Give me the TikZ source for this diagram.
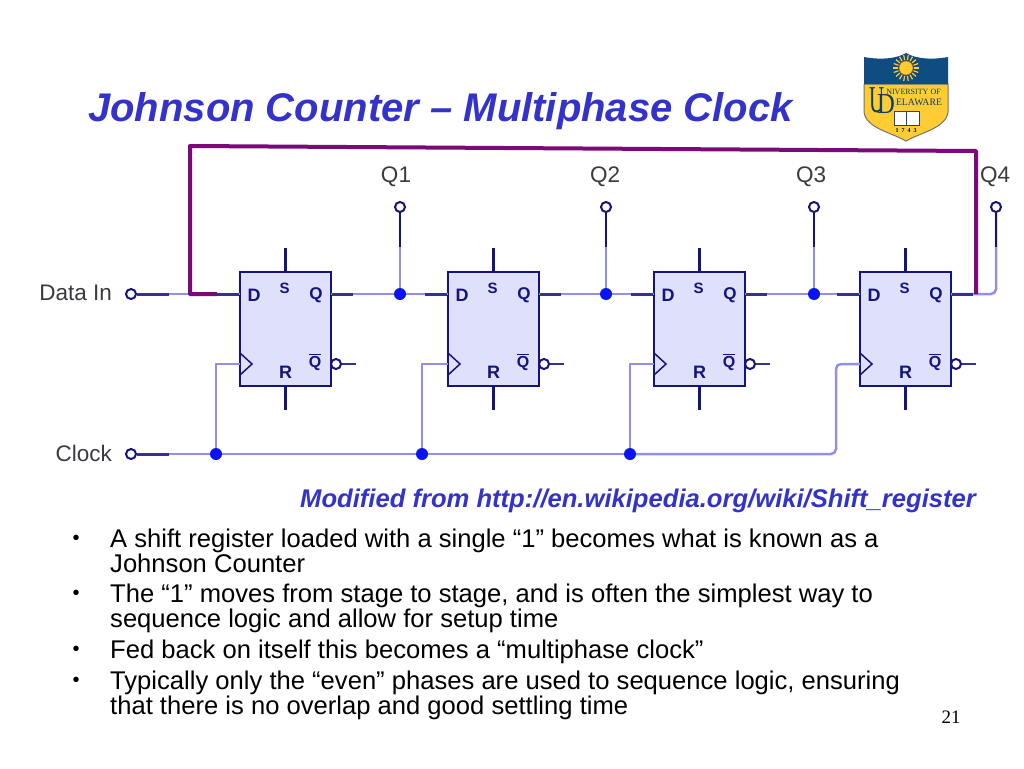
\documentclass[tikz,border=0pt]{standalone}
\usepackage{fontspec}
\setmainfont{Liberation Sans}
\newfontfamily\logofont{Liberation Serif}
\usetikzlibrary{positioning}
\definecolor{titleblue}{HTML}{3333CC}
\definecolor{boxfill}{HTML}{DFE1FA}
\definecolor{navyline}{HTML}{14147E}
\definecolor{stubblue}{HTML}{32328F}
\definecolor{wireblue}{HTML}{9090E6}
\definecolor{dotblue}{HTML}{0A14F0}
\definecolor{loopline}{HTML}{7A0A7A}
\definecolor{labelgray}{HTML}{3A3A40}
\definecolor{shieldblue}{HTML}{0F4C81}
\definecolor{shieldgold}{HTML}{FFCC33}
\tikzset{
  ffbox/.style={draw=navyline,fill=boxfill,line width=1.5pt,minimum width=91pt,minimum height=114pt,inner sep=0pt},
  wire/.style={draw=wireblue,line width=2.5pt},
  stub/.style={draw=stubblue,line width=3pt},
  pin/.style={draw=navyline,line width=2.5pt},
  loopwire/.style={draw=loopline,line width=4pt,line join=round},
  terminal/.style={circle,draw=navyline,fill=white,line width=2pt,minimum size=10pt,inner sep=0pt},
  bubble/.style={circle,draw=navyline,fill=white,line width=2pt,minimum size=10pt,inner sep=0pt},
  junction/.style={circle,fill=dotblue,minimum size=12pt,inner sep=0pt},
  sig/.style={font=\fontsize{22.5}{22.5}\selectfont,text=labelgray,inner sep=0pt},
  pinlabel/.style={font=\bfseries\fontsize{17}{17}\selectfont,text=navyline,inner sep=0pt},
  bullettext/.style={font=\fontsize{25.6}{25}\selectfont,align=left,anchor=north west,inner sep=0pt},
  dotmark/.style={font=\fontsize{20}{20}\selectfont,inner sep=0pt},
  logotext/.style={text=shieldblue!80!black,inner sep=0pt},
}
\begin{document}
\begin{tikzpicture}[x=1pt,y=-1pt]
\useasboundingbox[fill=white] (0,0) rectangle (1024,768);
\node[font=\bfseries\itshape\fontsize{40}{40}\selectfont,text=titleblue,anchor=base west,inner sep=0pt] (title) at (88,121) {Johnson Counter – Multiphase Clock};
% logo
\fill[shieldgold,draw=black!55,line width=1pt] (864,84) -- (864,112) .. controls (866,128) and (890,132) .. (906,141) .. controls (922,132) and (946,128) .. (948,112) -- (948,84) -- cycle;
\fill[shieldblue] (864,84) -- (864,57) .. controls (880,60) and (896,59) .. (906,53) .. controls (916,59) and (932,60) .. (948,57) -- (948,84) -- cycle;
\foreach \a in {0,20,...,340} \draw[shieldgold,line width=1.2pt] (906,68) ++(\a:8) -- ++(\a:5);
\node[circle,fill=shieldgold,draw=orange!80!black,line width=.6pt,minimum size=14pt,inner sep=0pt] (sun) at (906,68) {};
\node[logotext,font=\logofont\fontsize{38}{38}\selectfont,xscale=.55] (logoU) at (877.5,100) {U};
\node[logotext,font=\logofont\fontsize{29}{29}\selectfont,xscale=.85] (logoD) at (886,104) {D};
\node[logotext,font=\logofont\fontsize{8}{8}\selectfont] (logoa) at (913.5,92) {NIVERSITY OF};
\node[logotext,font=\logofont\fontsize{9.8}{10}\selectfont] (logob) at (919,102) {ELAWARE};
\draw[shieldblue,fill=white,line width=1pt] (894,111) rectangle (919,125) (906.5,111) -- (906.5,125);
\node[font=\logofont\bfseries\fontsize{6}{6}\selectfont,text=black,inner sep=0pt] (logoc) at (906,131) {1\ \ 7\ \ 4\ \ 3};
% circuit
\node[terminal] (dataT) at (131,294) {};
\node[terminal] (clockT) at (131,454) {};
\node[sig,anchor=east] (dataL) at (112,293) {Data In};
\node[sig,anchor=east] (clockL) at (112,453) {Clock};
\coordinate (loopIn) at (217,294);
\foreach \n/\x in {1/400,2/606,3/814} {
  \node[junction] (j\n) at (\x,294) {};
}
\foreach \n/\x in {1/216,2/422,3/630} {
  \node[junction] (c\n) at (\x,454) {};
}
\foreach \n/\x/\lx in {1/400/396,2/606/605,3/814/811,4/996/995} {
  \node[terminal] (t\n) at (\x,207) {};
  \node[sig] (tl\n) at (\lx,177) {Q\n};
  \coordinate (tm\n) at (\x,247);
}
\foreach \n/\x in {1/285.5,2/493.5,3/699.5,4/905.5} {
  \node[ffbox] (ff\n) at (\x,329) {};
  \coordinate (d\n) at (\x-45.5,294);
  \coordinate (q\n) at (\x+45.5,294);
  \coordinate (ck\n) at (\x-45.5,364);
  \node[bubble] (nq\n) at (\x+50.5,364) {};
  \coordinate (nqe\n) at (\x+70.5,364);
  \coordinate (sp\n) at (\x,248);
  \coordinate (rp\n) at (\x,410);
  \coordinate (ds\n) at (\x-68.5,294);
  \coordinate (qs\n) at (\x+67.5,294);
}
\draw[wire] (dataT) -- (d1);
\draw[stub] (dataT) -- (169,294);
\draw[wire] (clockT) -- (c1) -- (c2) -- (c3);
\draw[stub] (clockT) -- (169,454);
\draw[wire,rounded corners=5pt] (c3) -- (836,454) -- (836,364) -- (ck4);
\foreach \n in {1,2,3} {
  \pgfmathtruncatemacro{\m}{\n+1}
  \draw[wire] (q\n) -- (j\n);
  \draw[wire] (j\n) -- (d\m);
  \draw[wire] (j\n) -- (t\n);
  \draw[pin] (t\n) -- (tm\n);
  \draw[wire] (c\n) |- (ck\n);
}
\draw[wire,rounded corners=5pt] (q4) -- (996,294) -- (t4);
\draw[pin] (t4) -- (tm4);
\foreach \n in {1,2,3,4} {
  \draw[stub] (ff\n.west |- d\n) -- (ds\n);
  \draw[stub] (ff\n.east |- q\n) -- (qs\n);
  \draw[pin] (ff\n.north) -- (sp\n);
  \draw[pin] (ff\n.south) -- (rp\n);
  \draw[stub,line width=2pt] (nq\n) -- (nqe\n);
  \draw[draw=navyline,line width=1.5pt] ([yshift=11pt]ck\n) -- ([xshift=12pt]ck\n) -- ([yshift=-11pt]ck\n);
  \node[pinlabel,font=\bfseries\fontsize{18}{18}\selectfont] (lD\n) at ([xshift=-31.5pt,yshift=34pt]ff\n.center) {D};
  \node[pinlabel,font=\bfseries\fontsize{15}{15}\selectfont] (lS\n) at ([xshift=-1pt,yshift=41pt]ff\n.center) {S};
  \node[pinlabel] (lQ\n) at ([xshift=30.5pt,yshift=34pt]ff\n.center) {Q};
  \node[pinlabel,font=\bfseries\fontsize{16}{16}\selectfont] (lN\n) at ([xshift=29.5pt,yshift=-33pt]ff\n.center) {$\overline{\mbox{\bfseries Q}}$};
  \node[pinlabel,font=\bfseries\fontsize{18}{18}\selectfont] (lR\n) at ([yshift=-43pt]ff\n.center) {R};
}
\draw[loopwire] (loopIn) -- (190,294) -- (190,146) -- (976,151) -- (976,294);
\node[font=\bfseries\itshape\fontsize{25.6}{25.6}\selectfont,text=titleblue,anchor=base east,inner sep=0pt] (source) at (976,507) {Modified from http://en.wikipedia.org/wiki/Shift\_register};
% bullets
\foreach \n/\y in {1/540,2/595,3/651,4/682} {
  \node[dotmark] (dot\n) at (76,\y) {•};
}
\node[bullettext] (b1) at (110,529) {A shift register loaded with a single “1” becomes what is known as a\\Johnson Counter};
\node[bullettext] (b2) at (110,584) {The “1” moves from stage to stage, and is often the simplest way to\\sequence logic and allow for setup time};
\node[bullettext] (b3) at (110,640) {Fed back on itself this becomes a “multiphase clock”};
\node[bullettext] (b4) at (110,671) {Typically only the “even” phases are used to sequence logic, ensuring\\that there is no overlap and good settling time};
\node[font=\logofont\fontsize{19}{19}\selectfont,inner sep=0pt] (page) at (951,717) {21};
\end{tikzpicture}
\end{document}
